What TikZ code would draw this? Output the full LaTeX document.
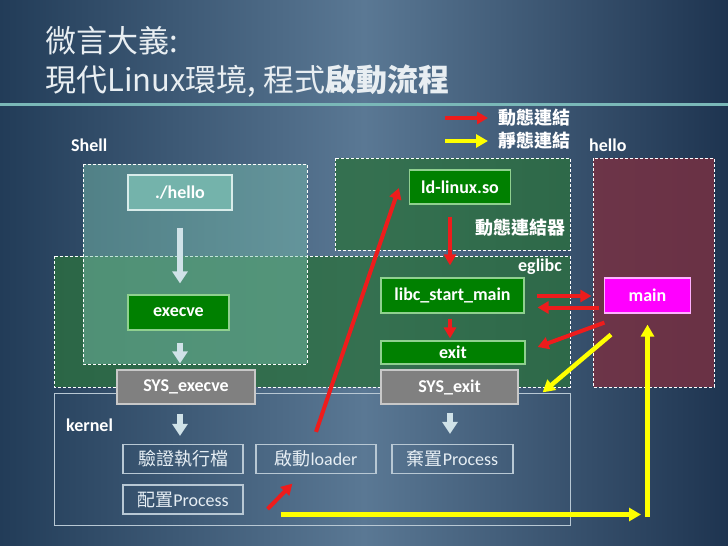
\documentclass[tikz,border=0pt]{standalone}
\usepackage{fontspec}
\setmainfont{Carlito}
\newfontfamily\cjk{Noto Sans CJK TC}
\usetikzlibrary{arrows.meta,calc}
\definecolor{bgL}{HTML}{223C58}
\definecolor{bgM}{HTML}{5A7894}
\definecolor{bgR}{HTML}{1E3450}
\definecolor{TealLine}{HTML}{7AB8B8}
\definecolor{TitleC}{HTML}{E8EEF2}
\definecolor{EgFill}{HTML}{2C6F40}
\definecolor{ShellFill}{HTML}{7CC4B0}
\definecolor{HelloFill}{HTML}{773143}
\definecolor{KEdge}{HTML}{B8C8D4}
\definecolor{KText}{HTML}{E6EEF4}
\definecolor{TealBox}{HTML}{74B3AB}
\definecolor{TealEdge}{HTML}{D8ECEA}
\definecolor{DGreen}{HTML}{008000}
\definecolor{GEdge}{HTML}{8FD08F}
\definecolor{GrayBox}{HTML}{808080}
\definecolor{GrayEdge}{HTML}{C8C8C8}
\definecolor{Magenta}{HTML}{FF00FF}
\definecolor{MEdge}{HTML}{FFB0FF}
\definecolor{WArrow}{HTML}{D0E2E8}
\definecolor{RArrow}{HTML}{EE1C1C}
\definecolor{YArrow}{HTML}{FFFF00}
\begin{document}
\begin{tikzpicture}[x=1pt,y=-1pt,
  lbl/.style={text=white,font=\bfseries\fontsize{18}{21}\selectfont,inner sep=0},
  region/.style={draw=white,dash pattern=on 3pt off 2pt,line width=0.9pt},
  bbox/.style={line width=1.2pt,text=white,font=\bfseries\fontsize{18}{21}\selectfont,inner sep=0},
  gbox/.style={bbox,draw=GEdge,fill=DGreen},
  kbox/.style={draw=KEdge,line width=1.2pt,text=KText,font=\fontsize{18}{21}\selectfont,inner sep=0,minimum width=120pt,minimum height=29pt},
  warrow/.style={draw=WArrow,line width=6pt,-{Triangle[length=12pt,width=15pt]}},
  rarrow/.style={draw=RArrow,line width=4pt,-{Triangle[length=11pt,width=12pt]}},
  yarrow/.style={draw=YArrow,line width=4.5pt,-{Triangle[length=12pt,width=13pt]}},
  title/.style={anchor=base west,inner sep=0,text=TitleC,font=\cjk\fontsize{31}{36}\selectfont},
]
\useasboundingbox (0,0) rectangle (728,546);
% background
\shade[left color=bgL,right color=bgR,middle color=bgM] (0,0) rectangle (728,546);
\fill[TealLine] (0,102.5) rectangle (728,106);

% title
\node[title] (t1) at (45,52) {微言大義:};
\node[title] (t2) at (45,91) {現代Linux環境, 程式{\bfseries 啟動流程}};

% regions
\fill[EgFill,opacity=.8] (54,256) rectangle (570,387);
\draw[region] (54,256) rectangle (570,387);
\fill[ShellFill,opacity=.45] (83,164) rectangle (307,364);
\draw[region] (83,164) rectangle (307,364);
\fill[EgFill,opacity=.8] (335,158) rectangle (570,250);
\draw[region] (335,158) rectangle (570,250);
\fill[HelloFill,opacity=.85] (593,158) rectangle (714,387);
\draw[region] (593,158) rectangle (714,387);
\draw[KEdge,line width=1pt] (54,393) rectangle (570,525);

% labels
\node[lbl,anchor=west] (lshell) at (71,145) {Shell};
\node[lbl,anchor=west] (lhello) at (589,145) {hello};
\node[lbl,anchor=west] (lkernel) at (66,425) {kernel};
\node[lbl,anchor=east] (leglibc) at (562,267) {eglibc};
\node[lbl,anchor=east,font=\cjk\bfseries\fontsize{18}{21}\selectfont] (lldso) at (566,228) {動態連結器};
\node[lbl,anchor=west,font=\cjk\bfseries\fontsize{18}{21}\selectfont] (dyn) at (498,118) {動態連結};
\node[lbl,anchor=west,font=\cjk\bfseries\fontsize{18}{21}\selectfont] (sta) at (498,141) {靜態連結};

% boxes
\node[bbox,draw=TealEdge,fill=TealBox,minimum width=104pt,minimum height=35pt] (hello) at (180,192.5) {./hello};
\node[gbox,minimum width=101pt,minimum height=35pt] (execve) at (178.5,312.5) {execve};
\node[bbox,draw=GrayEdge,fill=GrayBox,minimum width=138pt,minimum height=34pt] (sysexecve) at (186,387) {SYS\_execve};
\node[gbox,minimum width=101pt,minimum height=34pt] (ldso) at (460,187) {ld-linux.so};
\node[gbox,minimum width=143pt,minimum height=35pt] (libc) at (452.5,295.5) {libc\_start\_main};
\node[gbox,minimum width=144pt,minimum height=23pt] (exit) at (453,352.5) {exit};
\node[bbox,draw=GrayEdge,fill=GrayBox,minimum width=137pt,minimum height=34pt] (sysexit) at (449.5,387) {SYS\_exit};
\node[bbox,draw=MEdge,fill=Magenta,minimum width=86pt,minimum height=35pt] (main) at (647.5,295.5) {main};
\node[kbox] (verify) at (183,459) {\cjk 驗證執行檔};
\node[kbox] (alloc) at (183,499.5) {{\cjk 配置}Process};
\node[kbox] (loader) at (316,459) {{\cjk 啟動}loader};
\node[kbox,minimum width=121pt] (discard) at (452.5,459) {{\cjk 棄置}Process};

% legend arrows
\coordinate (dynS) at (445,118);
\coordinate (staS) at (445,141);
\draw[rarrow] (dynS) -- ($(dyn.west)+(-10,0)$);
\draw[yarrow] (staS) -- ($(sta.west)+(-10,0)$);

% white flow arrows
\draw[warrow] ($(hello.south)+(0,17)$) -- ($(execve.north)+(1.5,-11)$);
\draw[warrow] ($(execve.south)+(1.5,12)$) -- ($(sysexecve.north)+(-6,-6)$);
\draw[warrow] ($(sysexecve.south)+(-6,9)$) -- ($(verify.north)+(-3,-8)$);
\draw[warrow] ($(sysexit.south)+(0.5,8)$) -- ($(discard.north)+(-2.5,-10)$);

% red arrows
\draw[rarrow] ($(loader.north)+(0,-12)$) -- ($(ldso.west)+(-10,1)$);
\draw[rarrow] ($(ldso.south)+(-10,12)$) -- ($(libc.north)+(-2.5,-12)$);
\draw[rarrow] ($(libc.south)+(-2.5,5)$) -- ($(exit.north)+(-3,-2)$);
\draw[rarrow] ($(libc.east)+(12,0.5)$) -- ($(main.west)+(-12.5,0.5)$);
\draw[rarrow] ($(main.west)+(-4.5,12)$) -- ($(libc.east)+(13,12)$);
\draw[rarrow] ($(main.south west)+(0.5,9)$) -- ($(exit.east)+(12,-5.5)$);
\draw[rarrow] ($(alloc.east)+(24,9.5)$) -- ($(loader.south west)+(37,9.5)$);

% yellow arrows
\coordinate (yend) at (641,514.5);
\coordinate (ystart) at (647.5,517);
\draw[yarrow] ($(main.south)+(-36.5,21)$) -- ($(sysexit.north east)+(24,23)$);
\draw[yarrow] ($(alloc.east)+(37,15)$) -- (yend);
\draw[yarrow] (ystart) -- ($(main.south)+(0,11)$);
\end{tikzpicture}
\end{document}
